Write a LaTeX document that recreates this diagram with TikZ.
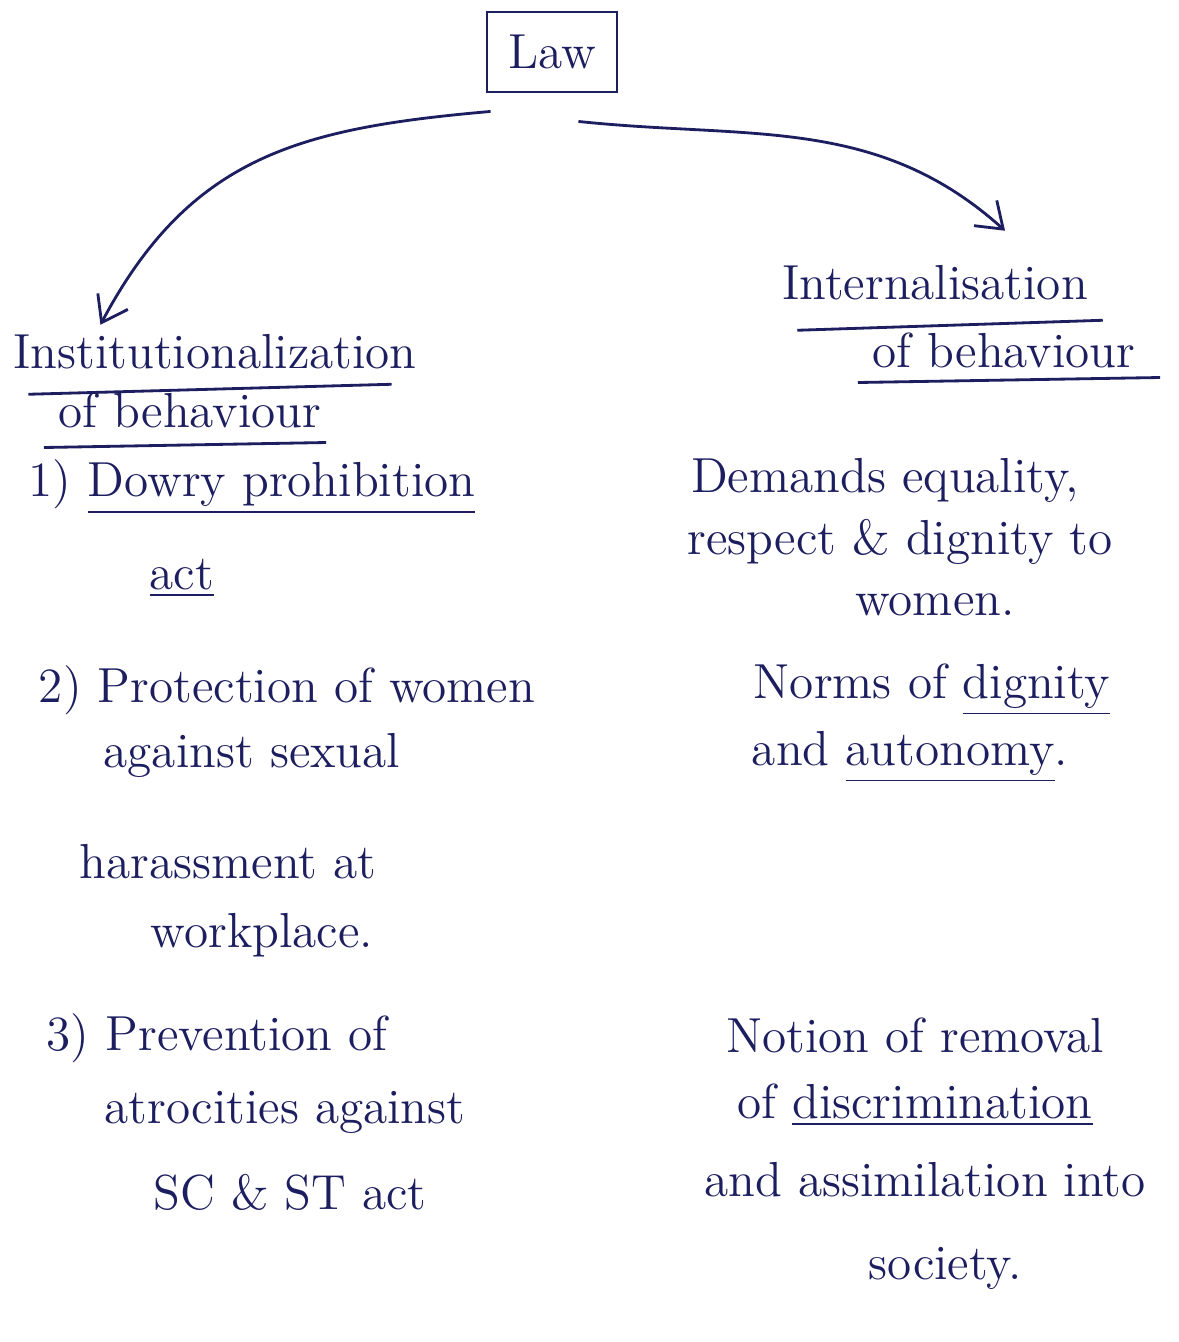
\documentclass[tikz,border=0pt]{standalone}
\usepackage{tikz}
\usetikzlibrary{arrows.meta}
\usetikzlibrary{positioning}
\definecolor{ink}{RGB}{28,30,95}

\begin{document}
\begin{tikzpicture}[x=0.01cm, y=-0.01cm, thick, color=ink,
    >={Straight Barb[length=2.4mm,width=3.4mm]},
    every node/.style={font=\fontsize{14}{17}\selectfont, inner sep=1pt}]
    \useasboundingbox[fill=white] (0,0) rectangle (1179,1342);

    \node[draw, minimum width=1.3cm, minimum height=0.8cm] (law) at (552,52) {Law};

    % left column
    \node (inst) at (215,352) {Institutionalization};
    \node (instb) at (190,410) {of behaviour};
    \node (dowry) at (252,487) {1) \underline{Dowry prohibition}};
    \node (dowryb) at (182,578) {\underline{act}};
    \node (prot) at (287,690) {2) Protection of women};
    \node (protb) at (252,755) {against sexual};
    \node (protc) at (228,862) {harassment at};
    \node (protd) at (262,935) {workplace.};
    \node (prev) at (217,1038) {3) Prevention of};
    \node (prevb) at (285,1112) {atrocities against};
    \node (prevc) at (290,1192) {SC \& ST act};

    % right column
    \node (intern) at (935,283) {Internalisation};
    \node (internb) at (1004,350) {of behaviour};
    \node (dem) at (885,480) {Demands equality,};
    \node (demb) at (900,542) {respect \& dignity to};
    \node (demc) at (935,605) {women.};
    \node (norm) at (932,690) {Norms of \underline{dignity}};
    \node (normb) at (910,757) {and \underline{autonomy}.};
    \node (notion) at (915,1035) {Notion of removal};
    \node (notionb) at (915,1105) {of \underline{discrimination}};
    \node (notionc) at (925,1180) {and assimilation into};
    \node (notiond) at (945,1268) {society.};

    % heading underlines
    \draw ([xshift=0.2cm,yshift=-0.2cm]inst.south west) -- ([xshift=-0.3cm,yshift=-0.1cm]inst.south east);
    \draw ([xshift=-0.1cm,yshift=-0.15cm]instb.south west) -- ([yshift=-0.1cm]instb.south east);
    \draw ([xshift=0.2cm,yshift=-0.25cm]intern.south west) -- ([xshift=0.1cm,yshift=-0.15cm]intern.south east);
    \draw ([xshift=-0.1cm,yshift=-0.1cm]internb.south west) -- ([xshift=0.2cm,yshift=-0.05cm]internb.south east);

    \draw[->] ([xshift=0.05cm,yshift=-0.18cm]law.south west) to[out=185,in=62,looseness=1.1] ([xshift=0.92cm,yshift=0.05cm]inst.north west);
    \draw[->] ([xshift=-0.4cm,yshift=-0.28cm]law.south east) to[out=-6,in=138] ([xshift=0.7cm,yshift=0.3cm]intern.north);
\end{tikzpicture}
\end{document}
